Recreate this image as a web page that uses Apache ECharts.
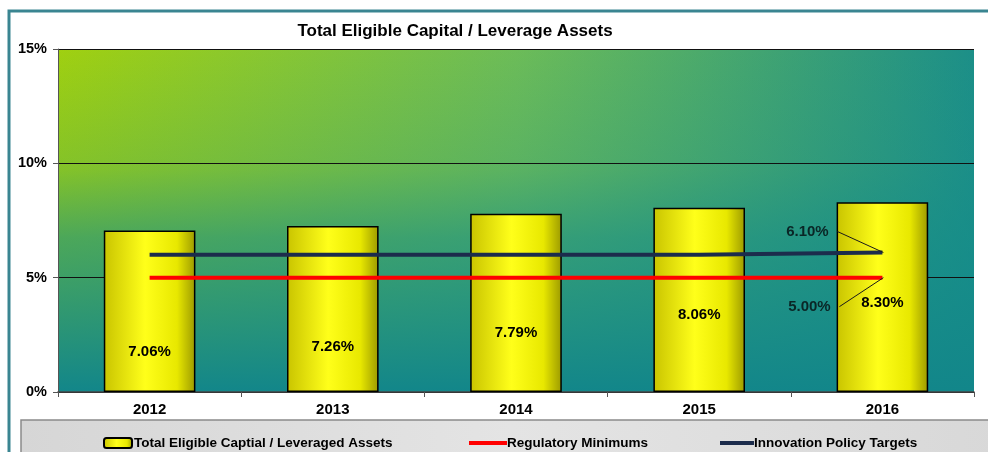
<!DOCTYPE html>
<html>
<head>
<meta charset="utf-8">
<script src="https://cdn.jsdelivr.net/npm/echarts@6/dist/echarts.min.js"></script>
<style>
  html, body { margin: 0; padding: 0; background: #fff; }
  #chart { width: 988px; height: 452px; }
</style>
</head>
<body>
<div id="chart"></div>
<script>
// 数据
const years = ['2012', '2013', '2014', '2015', '2016'];
const capitalRatio = [7.06, 7.26, 7.79, 8.06, 8.30];
const regMinimum = [5.0, 5.0, 5.0, 5.0, 5.0];
const policyTarget = [6.0, 6.0, 6.0, 6.0, 6.1];
// 末端标注：[类目下标, 数值, 文字]
const endNotes = [[4, 6.1, '6.10%'], [4, 5.0, '5.00%']];

// 样式：柱内标签纵向位置、末端标注的偏移
const barLabelY = ['75%', '73%', '67%', '58%', '53%'];
const noteOffset = [[-75, -21], [-73, 29]];

const font = 'Liberation Sans, Arial, sans-serif';
const chart = echarts.init(document.getElementById('chart'));

const barFill = new echarts.graphic.LinearGradient(0, 0, 1, 0, [
  { offset: 0, color: '#c9c400' },
  { offset: 0.45, color: '#ffff1a' },
  { offset: 0.8, color: '#e8e800' },
  { offset: 1, color: '#9c9a00' }
]);

const gridPos = { left: 58, right: 14, top: 49, bottom: 60 };

function renderNote(params, api) {
  const p = api.coord([api.value(0), api.value(1)]);
  const off = noteOffset[params.dataIndex];
  const tx = p[0] + off[0], ty = p[1] + off[1];
  return {
    type: 'group',
    children: [
      { type: 'line', shape: { x1: tx + 30, y1: ty, x2: p[0] + 1, y2: p[1] },
        style: { stroke: '#1a1a1a', lineWidth: 1 } },
      { type: 'text', x: tx, y: ty,
        style: { text: endNotes[params.dataIndex][2], align: 'center', verticalAlign: 'middle',
          font: 'bold 15px ' + font, fill: '#0a2626' } }
    ]
  };
}

chart.setOption({
  animation: false,
  textStyle: { fontFamily: font },
  title: {
    text: 'Total Eligible Capital / Leverage Assets',
    left: 450, top: 18, textAlign: 'center',
    textStyle: { fontSize: 17, fontWeight: 'bold', color: '#000' }
  },
  graphic: [
    { type: 'rect', shape: { x: 9, y: 11, width: 1000, height: 460 },
      style: { fill: 'none', stroke: '#3a8591', lineWidth: 3 }, z: 100 },
    { type: 'rect', shape: { x: 21, y: 420, width: 980, height: 40 },
      style: { fill: new echarts.graphic.LinearGradient(0, 0, 1, 0, [
        { offset: 0, color: '#d6d6d6' }, { offset: 0.5, color: '#e4e4e4' }, { offset: 1, color: '#d8d8d8' }
      ]), stroke: '#8a8a8a', lineWidth: 1.5 }, z: 0 }
  ],
  grid: [
    Object.assign({ show: true, borderWidth: 0, z: 0,
      backgroundColor: new echarts.graphic.LinearGradient(0, 0, 1, 0, [
        { offset: 0, color: '#a0d010' },
        { offset: 0.5, color: '#6cbc58' },
        { offset: 1, color: '#1c8f88' }
      ]) }, gridPos),
    Object.assign({ show: true, borderWidth: 0, z: 0,
      backgroundColor: new echarts.graphic.LinearGradient(0, 0, 0, 1, [
        { offset: 0, color: 'rgba(20,140,138,0)' },
        { offset: 0.35, color: 'rgba(20,140,138,0.2)' },
        { offset: 0.55, color: 'rgba(20,140,138,0.6)' },
        { offset: 1, color: 'rgba(18,134,138,1)' }
      ]) }, gridPos)
  ],
  legend: [
    { data: ['Total Eligible Captial / Leveraged Assets'], left: 98, top: 431,
      itemWidth: 28, itemHeight: 10, itemGap: 0,
      textStyle: { fontSize: 13.5, fontWeight: 'bold', color: '#000', padding: [0, 0, 0, -3] } },
    { data: [{ name: 'Regulatory Minimums', icon: 'rect' }], left: 464, top: 431,
      itemWidth: 38, itemHeight: 4, textStyle: { fontSize: 13.5, fontWeight: 'bold', color: '#000', padding: [0, 0, 0, -5] } },
    { data: [{ name: 'Innovation Policy Targets', icon: 'rect' }], left: 715, top: 431,
      itemWidth: 34, itemHeight: 4, textStyle: { fontSize: 13.5, fontWeight: 'bold', color: '#000', padding: [0, 0, 0, -5] } }
  ],
  xAxis: [
    {
      type: 'category', data: years, gridIndex: 0, z: 3,
      axisLine: { lineStyle: { color: '#444', width: 1.5 } },
      axisTick: { show: true, length: 5, lineStyle: { color: '#555' } },
      axisLabel: { fontSize: 15, fontWeight: 'bold', color: '#000', margin: 10 }
    },
    { type: 'category', data: years, gridIndex: 1, show: false }
  ],
  yAxis: [
    {
      type: 'value', min: 0, max: 15, interval: 5, gridIndex: 0, z: 3,
      axisLine: { show: true, lineStyle: { color: '#555' } },
      axisTick: { show: true, length: 5, lineStyle: { color: '#555' } },
      axisLabel: { fontSize: 14.5, fontWeight: 'bold', color: '#000', margin: 11, formatter: v => v + '%' },
      splitLine: { lineStyle: { color: '#111', width: 1 } }
    },
    { type: 'value', min: 0, max: 15, gridIndex: 1, show: false, splitLine: { show: false } }
  ],
  series: [
    {
      name: 'Total Eligible Captial / Leveraged Assets', type: 'bar',
      barWidth: '50%',
      data: capitalRatio.map((v, i) => ({
        value: v,
        label: { position: ['50%', barLabelY[i]] }
      })),
      itemStyle: { color: barFill, borderColor: '#000', borderWidth: 1.5 },
      label: {
        show: true, align: 'center', verticalAlign: 'middle',
        fontSize: 15, fontWeight: 'bold', color: '#000',
        formatter: p => p.value.toFixed(2) + '%'
      },
      z: 4
    },
    {
      name: 'Regulatory Minimums', type: 'line', data: regMinimum,
      symbol: 'none',
      lineStyle: { color: '#ff0000', width: 4 }, itemStyle: { color: '#ff0000' },
      z: 5
    },
    {
      name: 'Innovation Policy Targets', type: 'line', data: policyTarget,
      symbol: 'none',
      lineStyle: { color: '#1c2c4c', width: 4 }, itemStyle: { color: '#1c2c4c' },
      z: 5
    },
    {
      type: 'custom', data: endNotes, renderItem: renderNote, z: 6, silent: true
    }
  ]
});
</script>
</body>
</html>
